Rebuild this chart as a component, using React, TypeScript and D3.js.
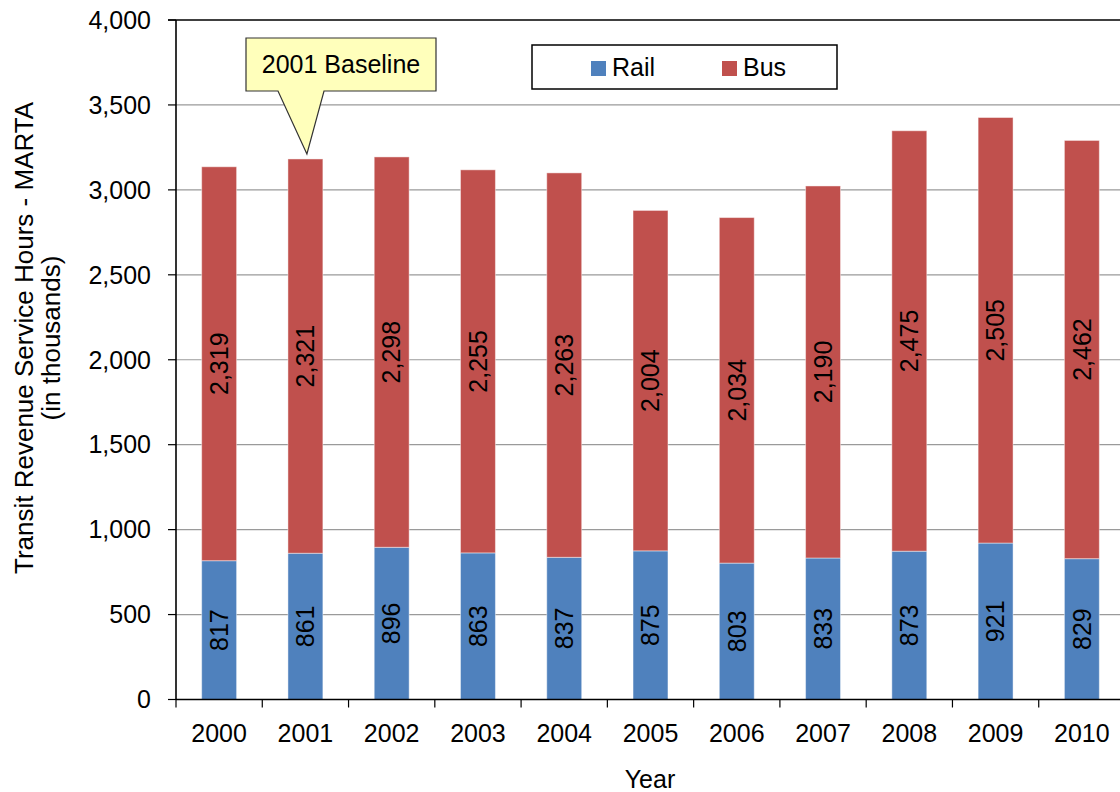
import React from "react";
import * as d3 from "d3";

const years = ["2000", "2001", "2002", "2003", "2004", "2005", "2006", "2007", "2008", "2009", "2010"];
const rail = [817, 861, 896, 863, 837, 875, 803, 833, 873, 921, 829];
const bus = [2319, 2321, 2298, 2255, 2263, 2004, 2034, 2190, 2475, 2505, 2462];
const yTicks = [0, 500, 1000, 1500, 2000, 2500, 3000, 3500, 4000];
const seriesNames = ["Rail", "Bus"];
const seriesColors = ["#4F81BD", "#C0504D"];
const calloutYear = "2001";
const calloutText = "2001 Baseline";

const W = 1120;
const H = 792;
const FONT = "'Liberation Sans', Arial, sans-serif";
const FS = 25;

export default function App() {
  const left = 176;
  const right = 1125;
  const top = 20;
  const bottom = 699.5;

  const x = d3.scaleBand<string>().domain(years).range([left, right]).padding(0);
  const y = d3.scaleLinear().domain([0, 4000]).range([bottom, top]);
  const barW = x.bandwidth() * 0.405;
  const fmt = d3.format(",");

  const rows = years.map((yr, i) => ({ year: yr, Rail: rail[i], Bus: bus[i] }));
  const stacked = d3.stack<any>().keys(seriesNames)(rows);

  // callout pointer aims at the top of the baseline year's bar
  const ci = years.indexOf(calloutYear);
  const tipX = x(calloutYear)! + x.bandwidth() / 2 + 1.5;
  const tipY = y(rail[ci] + bus[ci]) - 5;
  const boxL = 246, boxR = 436, boxT = 38, boxB = 91;
  const calloutPath = [
    `M${boxL},${boxT}`,
    `L${boxR},${boxT}`,
    `L${boxR},${boxB}`,
    `L324,${boxB}`,
    `L${tipX},${tipY}`,
    `L278,${boxB}`,
    `L${boxL},${boxB}`,
    "Z",
  ].join(" ");

  const bands = years.map((yr) => x(yr)!);
  bands.push(right);

  return (
    <svg
      width={W}
      height={H}
      viewBox={`0 0 ${W} ${H}`}
      style={{ position: "absolute", left: 0, top: 0, display: "block", background: "#fff" }}
      fontFamily={FONT}
    >
      {/* horizontal gridlines */}
      {yTicks.slice(1, -1).map((t) => (
        <line key={t} x1={left} x2={W} y1={y(t)} y2={y(t)} stroke="#9a9a9a" strokeWidth={1.2} />
      ))}
      {/* plot frame top */}
      <line x1={left - 8} x2={W} y1={y(4000)} y2={y(4000)} stroke="#000" strokeWidth={1.6} />

      {/* stacked bars */}
      {stacked.map((s, si) => (
        <g key={s.key}>
          {s.map((d, i) => {
            const cx = x(years[i])! + x.bandwidth() / 2;
            const y0 = y(d[0]);
            const y1 = y(d[1]);
            const val = d[1] - d[0];
            return (
              <g key={years[i]}>
                <rect
                  x={cx - barW / 2}
                  y={y1}
                  width={barW}
                  height={y0 - y1}
                  fill={seriesColors[si]}
                  stroke="#ffffff"
                  strokeOpacity={0.45}
                  strokeWidth={1}
                />
                <text
                  transform={`translate(${cx},${(y0 + y1) / 2}) rotate(-90)`}
                  textAnchor="middle"
                  dy="0.35em"
                  fontSize={FS}
                  fill="#000"
                >
                  {fmt(val)}
                </text>
              </g>
            );
          })}
        </g>
      ))}

      {/* y axis */}
      <line x1={left} x2={left} y1={top} y2={bottom} stroke="#000" strokeWidth={1.6} />
      {yTicks.map((t) => (
        <g key={t}>
          <line x1={left - 8} x2={left} y1={y(t)} y2={y(t)} stroke="#000" strokeWidth={1.2} />
          <text x={151} y={y(t)} dy="0.35em" textAnchor="end" fontSize={FS} fill="#000">
            {fmt(t)}
          </text>
        </g>
      ))}

      {/* x axis */}
      <line x1={left} x2={W} y1={bottom} y2={bottom} stroke="#000" strokeWidth={1.6} />
      {bands.map((bx, i) => (
        <line key={i} x1={bx} x2={bx} y1={bottom} y2={bottom + 8} stroke="#000" strokeWidth={1.2} />
      ))}
      {years.map((yr) => (
        <text key={yr} x={x(yr)! + x.bandwidth() / 2} y={742} textAnchor="middle" fontSize={FS} fill="#000">
          {yr}
        </text>
      ))}

      {/* axis titles */}
      <text x={650} y={788} textAnchor="middle" fontSize={FS} fill="#000">
        Year
      </text>
      <g transform={`translate(0,338) rotate(-90)`}>
        <text x={0} y={33} textAnchor="middle" fontSize={26} fill="#000">
          Transit Revenue Service Hours - MARTA
        </text>
        <text x={0} y={60} textAnchor="middle" fontSize={26} fill="#000">
          (in thousands)
        </text>
      </g>

      {/* legend */}
      <rect x={532} y={45} width={305} height={44} fill="#fff" stroke="#000" strokeWidth={1.5} />
      {seriesNames.map((n, i) => {
        const lx = [591, 722][i];
        return (
          <g key={n}>
            <rect x={lx} y={61} width={15} height={15} fill={seriesColors[i]} />
            <text x={lx + 21} y={76} fontSize={FS} fill="#000">
              {n}
            </text>
          </g>
        );
      })}

      {/* callout */}
      <path d={calloutPath} fill="#FFFFBB" stroke="#333" strokeWidth={1.2} strokeLinejoin="miter" />
      <text x={(boxL + boxR) / 2} y={73} textAnchor="middle" fontSize={FS} fill="#000">
        {calloutText}
      </text>
    </svg>
  );
}
